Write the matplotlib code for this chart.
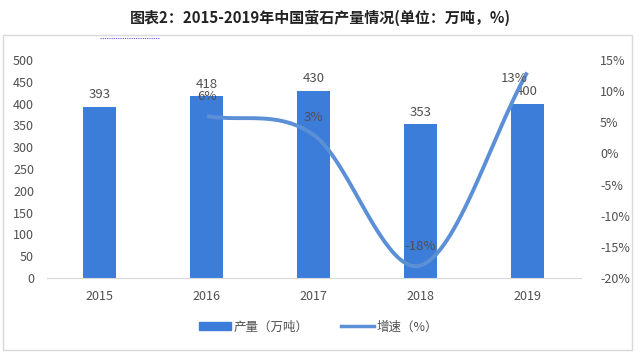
import matplotlib
matplotlib.use("Agg")
import matplotlib.pyplot as plt
import numpy as np
from matplotlib.patches import Rectangle
from matplotlib.lines import Line2D

plt.rcParams['font.family'] = ['Noto Sans CJK SC', 'DejaVu Sans']

years = ['2015', '2016', '2017', '2018', '2019']
output = [393, 418, 430, 353, 400]
growth_years = ['2016', '2017', '2018', '2019']
growth = [6, 3, -18, 13]
left_ticks = [0, 50, 100, 150, 200, 250, 300, 350, 400, 450, 500]
right_ticks = [-20, -15, -10, -5, 0, 5, 10, 15]

bar_color = '#3B7DD8'
line_color = '#5B8FD6'
text_color = '#505050'

fig = plt.figure(figsize=(6.4, 3.56), dpi=100)
W, H = 640, 356

# chart frame
fig.patches.append(Rectangle((3 / W, 1 - 350 / H), 629 / W, 315 / H, transform=fig.transFigure,
                             fill=False, edgecolor='#D9D9D9', linewidth=1.0))
# small dotted decoration under title
fig.add_artist(Line2D([100 / W, 160 / W], [1 - 38 / H, 1 - 38 / H], color='#6A5ACD',
                      linewidth=0.8, linestyle=(0, (1, 1))))

fig.text(0.5, 1 - 18 / H, '图表2：2015-2019年中国萤石产量情况(单位：万吨，%)', ha='center', va='center',
         fontsize=10.8, fontweight='bold', color='#222222')

ax = fig.add_axes([46.5 / W, 1 - 278 / H, 534 / W, 218 / H])
x = np.arange(len(years))
ax.bar(x, output, width=0.31, color=bar_color, zorder=2, label='产量（万吨）')
ax.set_xlim(-0.5, len(years) - 0.5)
ax.set_ylim(0, 500)
ax.set_yticks(left_ticks)
ax.set_xticks(x)
ax.set_xticklabels(years)
for s in ['top', 'right', 'left']:
    ax.spines[s].set_visible(False)
ax.spines['bottom'].set_color('#D9D9D9')
ax.tick_params(axis='both', length=0, labelsize=9, colors=text_color)
ax.tick_params(axis='x', pad=9)
ax.tick_params(axis='y', pad=9)
for xi, v in zip(x, output):
    ax.text(xi, v + 12, str(v), ha='center', va='bottom', fontsize=9.5, color=text_color)

ax2 = ax.twinx()
ax2.set_ylim(-20, 15)
ax2.set_yticks(right_ticks)
ax2.set_yticklabels([f'{t}%' for t in right_ticks])
for s in ax2.spines.values():
    s.set_visible(False)
ax2.tick_params(axis='y', length=0, labelsize=9, colors=text_color, pad=14)

# smooth line through points (Catmull-Rom)
gx = np.array([years.index(y) for y in growth_years], dtype=float)
gy = np.array(growth, dtype=float)
px = np.concatenate([[2 * gx[0] - gx[1]], gx, [2 * gx[-1] - gx[-2]]])
py = np.concatenate([[2 * gy[0] - gy[1]], gy, [2 * gy[-1] - gy[-2]]])
sx, sy = [], []
for i in range(1, len(px) - 2):
    p0, p1, p2, p3 = [np.array([px[j], py[j]]) for j in range(i - 1, i + 3)]
    c1 = p1 + (p2 - p0) / 6
    c2 = p2 - (p3 - p1) / 6
    t = np.linspace(0, 1, 40)[:, None]
    pts = (1 - t) ** 3 * p1 + 3 * (1 - t) ** 2 * t * c1 + 3 * (1 - t) * t ** 2 * c2 + t ** 3 * p2
    sx.extend(pts[:, 0]); sy.extend(pts[:, 1])
ax2.plot(sx, sy, color=line_color, linewidth=2.8, zorder=3, solid_capstyle='butt', label='增速（%）')

label_offsets = {'2016': (0, 3.2), '2017': (0, 2.7), '2018': (0, 3.0), '2019': (-0.12, -0.9)}
for yr, g in zip(growth_years, growth):
    dx, dy = label_offsets[yr]
    ax2.text(years.index(yr) + dx, g + dy, f'{g}%', ha='center', va='center', fontsize=9.5,
             color=text_color, zorder=4)

handles = [Rectangle((0, 0), 1, 1, color=bar_color),
           Line2D([0], [0], color=line_color, linewidth=2.5)]
fig.legend(handles, ['产量（万吨）', '增速（%）'], loc='center', bbox_to_anchor=(0.497, 1 - 327 / H),
           ncol=2, frameon=False, fontsize=9, handlelength=2.6, columnspacing=2.6,
           labelcolor=text_color, handletextpad=0.2, handleheight=0.6)

fig.savefig('out.png', dpi=100)
